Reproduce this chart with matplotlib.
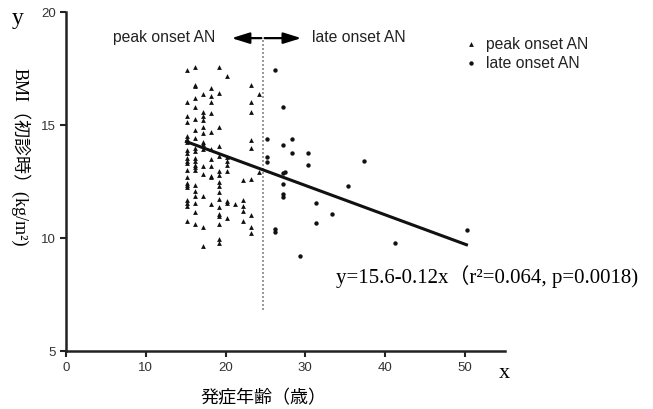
import matplotlib
matplotlib.use("Agg")
import matplotlib.pyplot as plt

# ---- data ----
peak_x = ([15.2] * 21 + [16.2] * 21 + [17.2] * 14 + [18.2] * 11 + [19.2] * 17 +
          [20.2] * 8 + [21.2] * 1 + [22.2] * 5 + [23.2] * 9 + [24.2] * 2)
peak_y = [17.45, 16.0, 15.38, 15.15, 14.5, 14.38, 14.26, 13.91, 13.76, 13.53, 13.42,
          13.32, 13.02, 12.68, 12.43, 12.35, 12.24, 11.7, 11.55, 11.43, 10.74,
          17.55, 16.77, 16.71, 16.18, 15.78, 15.27, 14.79, 14.41, 13.97, 13.86, 13.52,
          13.42, 13.23, 13.13, 13.02, 12.34, 12.09, 11.84, 11.55, 11.17, 10.62,
          16.37, 15.59, 15.38, 15.24, 14.9, 14.65, 14.26, 14.16, 13.94, 13.2, 12.83,
          11.84, 10.47, 9.63,
          16.62, 16.3, 16.0, 15.53, 14.68, 13.94, 13.5, 13.2, 12.76, 12.68, 11.5,
          17.55, 16.42, 14.9, 14.06, 13.64, 12.98, 12.79, 12.49, 12.29, 12.05, 11.73,
          11.36, 11.06, 10.99, 10.62, 9.96, 9.78,
          17.18, 13.57, 13.42, 13.23, 12.98, 11.65, 11.55, 10.87,
          11.5,
          12.58, 11.7, 11.43, 11.21, 10.77,
          16.77, 16.0, 15.59, 14.35, 13.97, 12.62, 11.02, 10.47, 10.24,
          16.36, 12.93]

late_x = [26.2, 27.2, 25.2, 28.3, 27.2, 28.3, 30.3, 25.2, 25.2, 30.3, 27.2, 27.5,
          27.2, 35.3, 27.2, 27.2, 31.3, 33.3, 31.3, 26.2, 26.2, 29.3, 37.3, 50.3, 41.3]
late_y = [17.43, 15.78, 14.38, 14.38, 14.13, 13.76, 13.76, 13.57, 13.38, 13.23, 12.86,
          12.93, 12.39, 12.28, 11.95, 11.8, 11.53, 11.06, 10.65, 10.4, 10.28, 9.22,
          13.41, 10.35, 9.78]

fit_x = [15.1, 50.2]
fit_y = [14.26, 9.70]

divider_x = 24.7
divider_y = [6.8, 18.84]

x_ticks = [0, 10, 20, 30, 40, 50]
y_ticks = [5, 10, 15, 20]

serif_cjk = ['Liberation Serif', 'Noto Sans CJK JP']
sans_cjk = ['Liberation Sans', 'Noto Sans CJK JP']

fig = plt.figure(figsize=(6.53, 4.10), dpi=100)
ax = fig.add_axes([0.101, 0.1415, 0.672, 0.827])

ax.scatter(peak_x, peak_y, marker='^', s=12, color='#111111', linewidths=0,
           label='peak onset AN', zorder=3)
ax.scatter(late_x, late_y, marker='o', s=10, color='#111111', linewidths=0,
           label='late onset AN', zorder=3)
ax.plot(fit_x, fit_y, color='#111111', lw=2.2, zorder=4)
ax.plot([divider_x, divider_x], divider_y, color='#888888', lw=1.2,
        linestyle=(0, (1.2, 1.2)), zorder=2)

# arrows
arrow_y = 18.84
astyle = '-|>,head_length=0.9,head_width=0.28'
ax.annotate('', xy=(20.76, arrow_y), xytext=(24.5, arrow_y),
            arrowprops=dict(arrowstyle=astyle, color='black', lw=1.6,
                            mutation_scale=12, shrinkA=0, shrinkB=0))
ax.annotate('', xy=(29.5, arrow_y), xytext=(24.9, arrow_y),
            arrowprops=dict(arrowstyle=astyle, color='black', lw=1.6,
                            mutation_scale=12, shrinkA=0, shrinkB=0))
ax.text(18.67, 18.93, 'peak onset AN', ha='right', va='center',
        family='Liberation Sans', fontsize=11.3, color='#222222')
ax.text(30.8, 18.93, 'late onset AN', ha='left', va='center',
        family='Liberation Sans', fontsize=11.3, color='#222222')

ax.text(33.9, 8.35, 'y=15.6-0.12x（r²=0.064, p=0.0018)', ha='left', va='center',
        family=serif_cjk, fontsize=15)

ax.set_xlim(0, 55)
ax.set_ylim(5, 20)
ax.set_xticks(x_ticks)
ax.set_yticks(y_ticks)
for s in ['top', 'right']:
    ax.spines[s].set_visible(False)
for s in ['left', 'bottom']:
    ax.spines[s].set_linewidth(1.8)
    ax.spines[s].set_color('#222222')
ax.tick_params(direction='out', length=4, width=1.5, labelsize=9.5, color='#222222',
               labelcolor='#333333', pad=3)
for lab in ax.get_xticklabels() + ax.get_yticklabels():
    lab.set_family('Liberation Sans')

leg = ax.legend(loc='center left', bbox_to_anchor=(0.712, 0.868), bbox_transform=fig.transFigure,
                frameon=False, handletextpad=0.55, handlelength=0.8, borderaxespad=0,
                borderpad=0, labelspacing=0.28,
                prop={'family': 'Liberation Sans', 'size': 11.3})
for t in leg.get_texts():
    t.set_color('#222222')

fig.text(0.031, 0.617, 'BMI（初診時）(kg/m²)', rotation=-90, ha='center', va='center',
         family=serif_cjk, fontsize=13)
fig.text(0.403, 0.027, '発症年齢（歳）', ha='center', va='center',
         family=sans_cjk, fontsize=13)
fig.text(0.027, 0.955, 'y', ha='center', va='center', family='Liberation Serif', fontsize=17)
fig.text(0.773, 0.09, 'x', ha='center', va='center', family='Liberation Serif', fontsize=16)

fig.savefig('out.png', dpi=100)
